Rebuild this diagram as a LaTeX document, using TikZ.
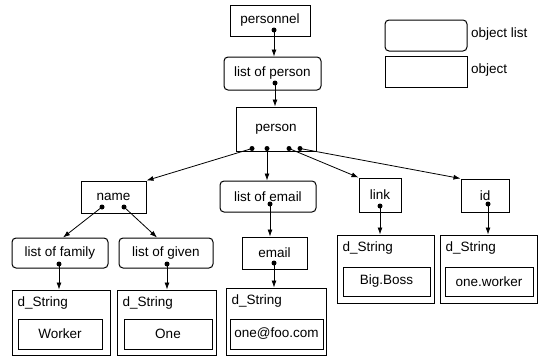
\documentclass[tikz,border=0pt]{standalone}
\usepackage{fontspec}
\setmainfont{Liberation Sans}
\usetikzlibrary{arrows.meta,calc}
\tikzset{
  box/.style={draw, line width=1pt, inner sep=0pt, font=\fontsize{13.5}{15}\selectfont},
  obox/.style={box, minimum width=#1},
  lbox/.style={box, rounded corners=4pt},
  lbl/.style={anchor=west, inner sep=0pt, font=\fontsize{13.5}{15}\selectfont},
  dot/.style={circle, fill, inner sep=0pt, minimum size=5pt},
  arr/.style={line width=0.8pt, -{Latex[length=7pt,width=5pt]}},
}
\begin{document}
\begin{tikzpicture}[x=1pt,y=-1pt]
\useasboundingbox (0,0) rectangle (540,356);
% legend
\node[lbox, minimum width=82pt, minimum height=31pt] (legl) at (426,35.5) {};
\node[lbl] (leglt) at (471,34) {object list};
\node[box, minimum width=82pt, minimum height=31pt] (lego) at (426,71.5) {};
\node[lbl] (legot) at (471,70) {object};
% main nodes
\node[box, minimum width=80pt, minimum height=31pt] (personnel) at (270,20.5) {personnel};
\node[lbox, minimum width=97pt, minimum height=33pt] (lp) at (272.5,73.5) {list of person};
\node[box, minimum width=80pt, minimum height=44pt] (person) at (276,129) {person};
\node[box, minimum width=65pt, minimum height=32pt] (name) at (113.5,197) {name};
\node[lbox, minimum width=96pt, minimum height=31pt] (le) at (268,196.5) {list of email};
\node[box, minimum width=42pt, minimum height=34pt] (link) at (380,195) {link};
\node[box, minimum width=48pt, minimum height=33pt] (id) at (485,195.5) {id};
\node[lbox, minimum width=96pt, minimum height=30pt] (lf) at (60,253) {list of family};
\node[lbox, minimum width=94pt, minimum height=30pt] (lg) at (166,253) {list of given};
\node[box, minimum width=65pt, minimum height=32pt] (email) at (274.5,253) {email};
% d_String boxes
\node[box, minimum width=98pt, minimum height=65pt] (dsf) at (61,322.5) {};
\node[box, minimum width=84pt, minimum height=30pt] (dsfi) at (60,334) {Worker};
\node[box, minimum width=99pt, minimum height=65pt] (dsg) at (166.5,322.5) {};
\node[box, minimum width=88pt, minimum height=30pt] (dsgi) at (168,334) {One};
\node[box, minimum width=100pt, minimum height=67pt] (dse) at (276,321.5) {};
\node[box, minimum width=93pt, minimum height=30pt] (dsei) at (276.5,334) {one@foo.com};
\node[box, minimum width=97pt, minimum height=68pt] (dsl) at (385.5,269) {};
\node[box, minimum width=87pt, minimum height=29pt] (dsli) at (386.5,281.5) {Big.Boss};
\node[box, minimum width=97pt, minimum height=68pt] (dsi) at (488.5,269) {};
\node[box, minimum width=88pt, minimum height=29pt] (dsii) at (489,281.5) {one.worker};
\foreach \o in {dsf,dsg,dse,dsl,dsi}{
  \node[lbl] (\o t) at ($(\o.north west)+(6,13.5)$) {d\_String};
}
% dots
\node[dot] (d0) at (274,30) {};
\node[dot] (d1) at (275,83) {};
\node[dot] (p1) at (252,148.5) {};
\node[dot] (p2) at (267,148.5) {};
\node[dot] (p3) at (289,148.5) {};
\node[dot] (p4) at (300,148.5) {};
\node[dot] (n1) at (102,207) {};
\node[dot] (n2) at (124,207) {};
\node[dot] (f1) at (59,264) {};
\node[dot] (g1) at (167,264) {};
\node[dot] (e1) at (270,204) {};
\node[dot] (e2) at (274,263) {};
\node[dot] (k1) at (380,206) {};
\node[dot] (i1) at (488,204) {};
% connectors
\draw[arr] (d0.center) -- (d0.center |- lp.north);
\draw[arr] (d1.center) -- (d1.center |- person.north);
\draw[arr] (p1.center) -- (name.north east);
\draw[arr] (p2.center) -- (p2.center |- le.north);
\draw[arr] (p3.center) -- (link.north west);
\draw[arr] (p4.center) -- (id.north west);
\draw[arr] (n1.center) -- ($(lf.north)+(3,0)$);
\draw[arr] (n2.center) -- ($(lg.north)+(-9,0)$);
\draw[arr] (f1.center) -- (f1.center |- dsf.north);
\draw[arr] (g1.center) -- (g1.center |- dsg.north);
\draw[arr] (e1.center) -- (e1.center |- email.north);
\draw[arr] (e2.center) -- (e2.center |- dse.north);
\draw[arr] (k1.center) -- (k1.center |- dsl.north);
\draw[arr] (i1.center) -- (i1.center |- dsi.north);
\end{tikzpicture}
\end{document}
